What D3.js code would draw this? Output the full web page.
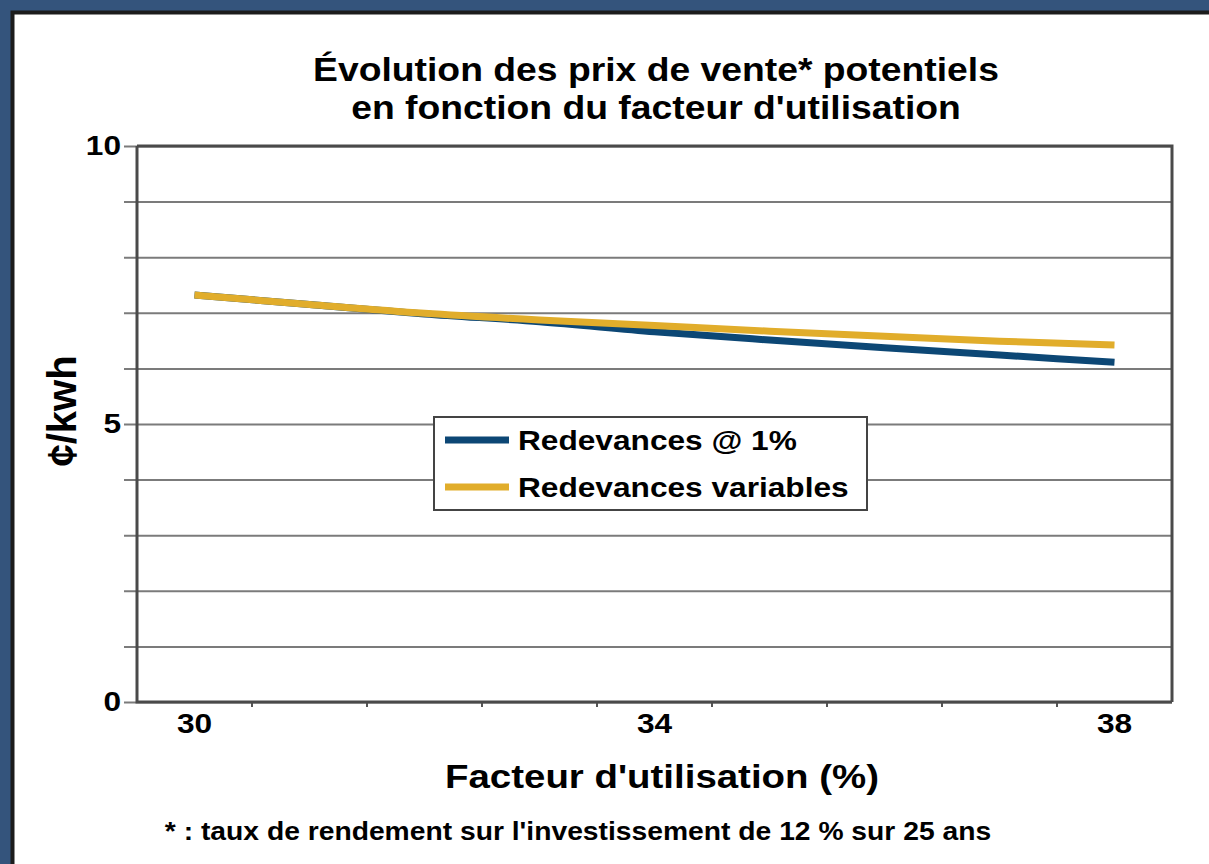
<!DOCTYPE html>
<html>
<head>
<meta charset="utf-8">
<script src="https://cdn.jsdelivr.net/npm/d3@7"></script>
<style>
  body { margin: 0; background: #34547c; }
  text { font-family: "Liberation Sans", Arial, sans-serif; font-weight: bold; fill: #000; }
</style>
</head>
<body>
<div id="chart"></div>
<script>
// facteur d'utilisation (%)
let categories = [30, 31, 32, 33, 34, 35, 36, 37, 38];
let labelCats = [30, 34, 38];
// ¢/kwh
let fixedRoyalty = [7.32, 7.15, 6.98, 6.84, 6.66, 6.51, 6.37, 6.24, 6.11];
let variableRoyalty = [7.32, 7.15, 6.99, 6.87, 6.77, 6.67, 6.58, 6.49, 6.42];
let seriesNames = ['Redevances @ 1%', 'Redevances variables'];
let yTicks = [0, 1, 2, 3, 4, 5, 6, 7, 8, 9, 10];
let yLabels = [0, 5, 10];

let width = 1209;
let height = 864;
let stretchK = 1.13;

let margin = { left: 137, right: 1172, top: 146, bottom: 702 };
let colors = ['#0c4775', '#e1ad2b'];

let svg = d3.select('#chart')
  .append('svg')
  .attr('width', width)
  .attr('height', height);

// frame
svg.append('rect')
  .attr('width', width)
  .attr('height', height)
  .attr('fill', '#34547c');
svg.append('rect')
  .attr('x', 12.5)
  .attr('y', 12.5)
  .attr('width', width + 20)
  .attr('height', height + 20)
  .attr('fill', '#fff')
  .attr('stroke', '#1c1c1c')
  .attr('stroke-width', 4);

let x = d3.scaleBand()
  .domain(categories)
  .range([margin.left, margin.right])
  .padding(0);

let y = d3.scaleLinear()
  .domain([0, 10])
  .range([margin.bottom, margin.top]);

function stretch(sel) {
  sel.each(function() {
    let len = this.getComputedTextLength();
    d3.select(this)
      .attr('textLength', len * stretchK)
      .attr('lengthAdjust', 'spacingAndGlyphs');
  });
}

// gridlines + y labels
let yAxis = d3.axisLeft(y)
  .tickValues(yTicks)
  .tickSize(margin.right - 124)
  .tickPadding(3)
  .tickFormat(d => yLabels.includes(d) ? d : '');

let gy = svg.append('g')
  .attr('transform', 'translate(' + margin.right + ',0)')
  .call(yAxis);
gy.select('.domain').remove();
gy.selectAll('line')
  .attr('stroke', '#7b7b7b')
  .attr('stroke-width', 2);
gy.selectAll('text')
  .attr('font-size', 28)
  .attr('fill', '#000')
  .call(stretch);

// x tick marks at category boundaries
svg.append('g')
  .selectAll('line')
  .data(categories.slice(1))
  .enter()
  .append('line')
  .attr('x1', d => x(d))
  .attr('x2', d => x(d))
  .attr('y1', margin.bottom)
  .attr('y2', margin.bottom + 5)
  .attr('stroke', '#555')
  .attr('stroke-width', 2);

// x labels
let xAxis = d3.axisBottom(x)
  .tickValues(labelCats)
  .tickSize(0)
  .tickPadding(11);

let gx = svg.append('g')
  .attr('transform', 'translate(0,' + margin.bottom + ')')
  .call(xAxis);
gx.select('.domain').remove();
gx.selectAll('text')
  .attr('font-size', 28)
  .attr('fill', '#000')
  .call(stretch);

// plot border
let border = svg.append('g')
  .attr('fill', 'none')
  .attr('stroke', '#4a4a4a')
  .attr('stroke-width', 3);
border.append('path')
  .attr('d', 'M' + margin.left + ',' + margin.top + 'H' + margin.right + 'V' + margin.bottom);
border.append('path')
  .attr('d', 'M' + margin.left + ',' + margin.top + 'V' + margin.bottom + 'H' + margin.right);

// series
let line = d3.line()
  .x((d, i) => x(categories[i]) + x.bandwidth() / 2)
  .y(d => y(d))
  .curve(d3.curveMonotoneX);

[fixedRoyalty, variableRoyalty].forEach((s, i) => {
  svg.append('path')
    .datum(s)
    .attr('d', line)
    .attr('fill', 'none')
    .attr('stroke', colors[i])
    .attr('stroke-width', 7);
});

// legend
let legend = svg.append('g')
  .attr('transform', 'translate(434,417)');
legend.append('rect')
  .attr('width', 433)
  .attr('height', 93)
  .attr('fill', '#fff')
  .attr('stroke', '#444')
  .attr('stroke-width', 2);

let item = legend.selectAll('.item')
  .data(seriesNames)
  .enter()
  .append('g')
  .attr('class', 'item')
  .attr('transform', (d, i) => 'translate(0,' + (23 + i * 47) + ')');
item.append('line')
  .attr('x1', 11)
  .attr('x2', 75)
  .attr('stroke', (d, i) => colors[i])
  .attr('stroke-width', 7);
item.append('text')
  .attr('x', 84)
  .attr('y', 10)
  .attr('font-size', 28)
  .text(d => d)
  .call(stretch);

// titles
let title = svg.append('text')
  .attr('text-anchor', 'middle')
  .attr('font-size', 33);
title.append('tspan')
  .attr('x', 656)
  .attr('y', 81)
  .text('Évolution des prix de vente* potentiels');
title.append('tspan')
  .attr('x', 656)
  .attr('y', 119)
  .text("en fonction du facteur d'utilisation");
title.selectAll('tspan').each(function() {
  let len = this.getComputedTextLength();
  d3.select(this)
    .attr('textLength', len * stretchK)
    .attr('lengthAdjust', 'spacingAndGlyphs');
});

svg.append('text')
  .attr('x', 662)
  .attr('y', 788)
  .attr('text-anchor', 'middle')
  .attr('font-size', 34)
  .text("Facteur d'utilisation (%)")
  .call(stretch);

svg.append('text')
  .attr('transform', 'translate(76,411) rotate(-90)')
  .attr('text-anchor', 'middle')
  .attr('font-size', 40)
  .text('¢/kwh');

svg.append('text')
  .attr('x', 578)
  .attr('y', 840)
  .attr('text-anchor', 'middle')
  .attr('font-size', 25)
  .text("* : taux de rendement sur l'investissement de 12 % sur 25 ans")
  .call(stretch);
</script>
</body>
</html>
